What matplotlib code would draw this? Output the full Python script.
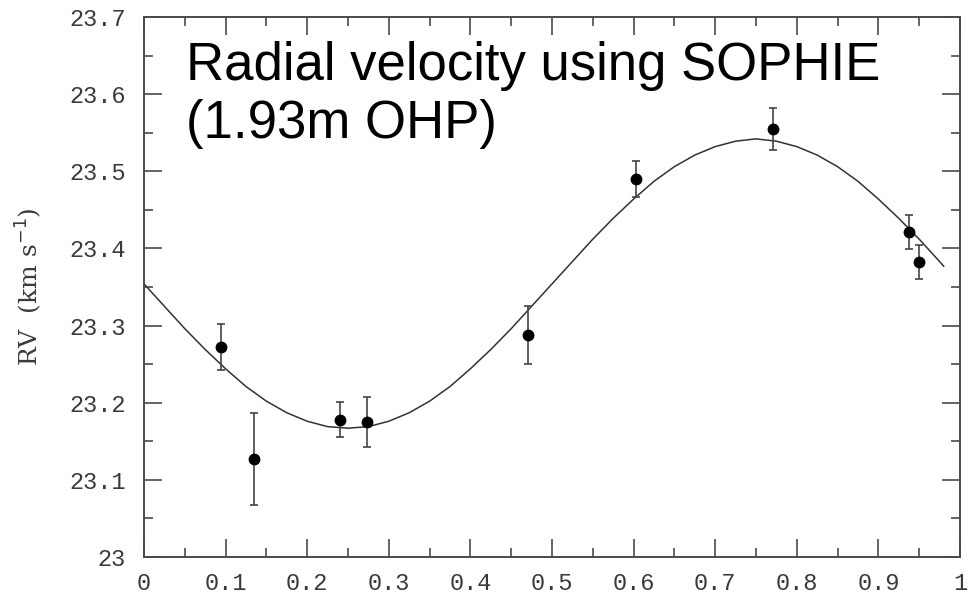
import numpy as np
import matplotlib
matplotlib.use('Agg')
import matplotlib.pyplot as plt
from matplotlib.ticker import MultipleLocator, FormatStrFormatter

# measured RVs (phase, value, error)
phase = [0.094, 0.135, 0.240, 0.273, 0.471, 0.603, 0.771, 0.9375, 0.950]
rv = [23.272, 23.127, 23.178, 23.175, 23.288, 23.490, 23.555, 23.421, 23.382]
rv_err = [0.030, 0.060, 0.023, 0.032, 0.038, 0.023, 0.027, 0.022, 0.022]

# orbital fit curve
curve_phase = [0.0, 0.025, 0.05, 0.075, 0.1, 0.125, 0.15, 0.175, 0.2, 0.225,
               0.25, 0.275, 0.3, 0.325, 0.35, 0.375, 0.4, 0.425, 0.45, 0.475,
               0.5, 0.525, 0.55, 0.575, 0.6, 0.625, 0.65, 0.675, 0.7, 0.725,
               0.75, 0.775, 0.8, 0.825, 0.85, 0.875, 0.9, 0.925, 0.95, 0.975, 0.98]
curve_rv = [23.354, 23.325, 23.296, 23.269, 23.244, 23.221, 23.202, 23.187, 23.176, 23.169,
            23.167, 23.169, 23.176, 23.187, 23.202, 23.221, 23.244, 23.269, 23.296, 23.325,
            23.354, 23.383, 23.412, 23.439, 23.464, 23.487, 23.506, 23.521, 23.532, 23.539,
            23.542, 23.539, 23.532, 23.521, 23.506, 23.487, 23.464, 23.439, 23.412, 23.383, 23.377]

axis_col = '#4a4a4a'
text_col = '#3a3a3a'

fig = plt.figure(figsize=(9.75, 5.96), dpi=100)
ax = fig.add_axes([0.1477, 0.0654, 0.8369, 0.9061])

ax.plot(curve_phase, curve_rv, color='#333333', lw=1.1)
ax.errorbar(phase, rv, yerr=rv_err, fmt='o', color='black', ms=7.5,
            ecolor='#444444', elinewidth=1.2, capsize=3, capthick=1.2)

ax.set_xlim(0, 1)
ax.set_ylim(23, 23.7)
ax.xaxis.set_major_locator(MultipleLocator(0.1))
ax.xaxis.set_minor_locator(MultipleLocator(0.05))
ax.yaxis.set_major_locator(MultipleLocator(0.1))
ax.yaxis.set_minor_locator(MultipleLocator(0.05))
ax.xaxis.set_major_formatter(FormatStrFormatter('%g'))
ax.yaxis.set_major_formatter(FormatStrFormatter('%g'))

ax.tick_params(which='both', direction='in', top=True, right=True,
               color=axis_col, width=1.2, labelcolor=text_col, labelsize=17)
ax.tick_params(which='major', length=13)
ax.tick_params(axis='x', which='major', pad=11)
ax.tick_params(axis='y', which='major', pad=13)
ax.tick_params(which='minor', length=6.5)
for lab in ax.get_xticklabels() + ax.get_yticklabels():
    lab.set_family('Liberation Mono')
for s in ax.spines.values():
    s.set_color(axis_col)
    s.set_linewidth(1.4)

ax.set_ylabel('RV  (km s$^{-1}$)', fontsize=18, color=text_col,
              family='DejaVu Serif', labelpad=18)

ax.text(0.051, 0.955, 'Radial velocity using SOPHIE\n(1.93m OHP)',
        transform=ax.transAxes, ha='left', va='top', fontsize=38,
        family='Liberation Sans', color='black', linespacing=1.2)

fig.savefig('out.png', dpi=100)
